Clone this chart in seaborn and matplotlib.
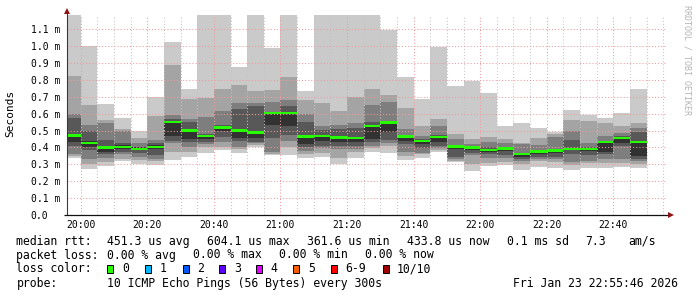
import numpy as np
import pandas as pd
import matplotlib
matplotlib.use("Agg")
import matplotlib.pyplot as plt
import matplotlib.dates as mdates
from matplotlib.patches import Rectangle
import seaborn as sns

sns.set_style("white")
plt.rcParams['font.family'] = ['DejaVu Sans Mono', 'DejaVu Sans']

# ---- data (milliseconds) ----
bar_start = pd.date_range("2026-01-23 19:55", periods=35, freq="5min")

ping1 = [0.337, 0.275, 0.292, 0.318, 0.302, 0.298, 0.326, 0.345, 0.367, 0.385, 0.365, 0.405,
         0.355, 0.355, 0.335, 0.345, 0.300, 0.335, 0.375, 0.369, 0.326, 0.335, 0.372, 0.316,
         0.263, 0.292, 0.296, 0.268, 0.286, 0.278, 0.268, 0.276, 0.277, 0.286, 0.280]
ping2 = [0.349, 0.300, 0.315, 0.330, 0.325, 0.322, 0.375, 0.375, 0.400, 0.404, 0.390, 0.415,
         0.360, 0.400, 0.360, 0.365, 0.340, 0.375, 0.395, 0.410, 0.350, 0.360, 0.385, 0.322,
         0.300, 0.310, 0.315, 0.300, 0.320, 0.315, 0.295, 0.305, 0.305, 0.310, 0.300]
ping3 = [0.361, 0.330, 0.335, 0.360, 0.345, 0.330, 0.428, 0.405, 0.420, 0.434, 0.405, 0.425,
         0.375, 0.440, 0.380, 0.395, 0.390, 0.390, 0.410, 0.425, 0.375, 0.370, 0.395, 0.330,
         0.355, 0.335, 0.335, 0.320, 0.330, 0.330, 0.315, 0.320, 0.330, 0.330, 0.318]
ping4 = [0.408, 0.385, 0.360, 0.375, 0.370, 0.355, 0.440, 0.430, 0.430, 0.464, 0.440, 0.435,
         0.454, 0.474, 0.400, 0.410, 0.410, 0.410, 0.435, 0.444, 0.420, 0.395, 0.410, 0.345,
         0.370, 0.360, 0.355, 0.330, 0.345, 0.345, 0.360, 0.355, 0.360, 0.410, 0.330]
ping5 = [0.434, 0.400, 0.375, 0.390, 0.385, 0.390, 0.468, 0.450, 0.450, 0.495, 0.454, 0.455,
         0.533, 0.527, 0.420, 0.440, 0.434, 0.434, 0.448, 0.493, 0.438, 0.420, 0.434, 0.390,
         0.385, 0.375, 0.380, 0.345, 0.360, 0.370, 0.382, 0.380, 0.375, 0.425, 0.350]
ping6 = [0.480, 0.440, 0.410, 0.412, 0.400, 0.415, 0.555, 0.510, 0.472, 0.525, 0.510, 0.500,
         0.610, 0.610, 0.470, 0.475, 0.465, 0.460, 0.535, 0.550, 0.470, 0.442, 0.468, 0.410,
         0.403, 0.390, 0.400, 0.365, 0.380, 0.386, 0.395, 0.395, 0.438, 0.460, 0.440]
ping7 = [0.574, 0.500, 0.445, 0.424, 0.405, 0.425, 0.570, 0.550, 0.480, 0.535, 0.628, 0.645,
         0.612, 0.645, 0.553, 0.505, 0.510, 0.513, 0.549, 0.553, 0.475, 0.450, 0.475, 0.414,
         0.410, 0.400, 0.405, 0.370, 0.385, 0.390, 0.444, 0.400, 0.440, 0.470, 0.493]
ping8 = [0.598, 0.535, 0.545, 0.500, 0.428, 0.444, 0.592, 0.568, 0.582, 0.616, 0.665, 0.665,
         0.671, 0.681, 0.598, 0.527, 0.533, 0.545, 0.651, 0.671, 0.509, 0.468, 0.527, 0.448,
         0.420, 0.434, 0.428, 0.420, 0.414, 0.464, 0.498, 0.424, 0.468, 0.483, 0.513]
ping9 = [0.823, 0.650, 0.560, 0.508, 0.455, 0.586, 0.888, 0.687, 0.695, 0.746, 0.770, 0.735,
         0.740, 0.815, 0.681, 0.665, 0.617, 0.700, 0.746, 0.710, 0.635, 0.527, 0.568, 0.480,
         0.448, 0.460, 0.448, 0.428, 0.458, 0.480, 0.562, 0.557, 0.547, 0.527, 0.543]
ping10 = [1.300, 1.000, 0.657, 0.576, 0.500, 0.700, 1.024, 0.746, 1.300, 1.300, 0.878, 1.300,
          0.990, 1.300, 0.734, 1.300, 1.300, 1.300, 1.300, 1.097, 0.815, 0.687, 0.997, 0.764,
          0.793, 0.724, 0.527, 0.547, 0.518, 0.493, 0.622, 0.592, 0.577, 0.602, 0.746]
median = [0.470, 0.428, 0.400, 0.404, 0.392, 0.403, 0.549, 0.500, 0.468, 0.519, 0.500, 0.489,
          0.602, 0.602, 0.464, 0.468, 0.458, 0.454, 0.527, 0.547, 0.464, 0.438, 0.462, 0.405,
          0.399, 0.385, 0.394, 0.361, 0.375, 0.381, 0.390, 0.389, 0.434, 0.454, 0.433]

y_ticks = [0.0, 0.1, 0.2, 0.3, 0.4, 0.5, 0.6, 0.7, 0.8, 0.9, 1.0, 1.1]
y_labels = ["0.0", "0.1 m", "0.2 m", "0.3 m", "0.4 m", "0.5 m", "0.6 m", "0.7 m",
            "0.8 m", "0.9 m", "1.0 m", "1.1 m"]

loss_labels = ["0", "1", "2", "3", "4", "5", "6-9", "10/10"]
loss_colors = ['#26ff00', '#00b8ff', '#0059ff', '#5e00ff', '#dd00ff', '#fe5c00', '#ff0000', '#a10000']

smoke_colors = ['#cacaca', '#a4a4a4', '#7e7e7e', '#585858', '#323232']

W, H = 697, 297
fig = plt.figure(figsize=(W / 100, H / 100), dpi=100)
fig.patch.set_facecolor('white')
ax_l, ax_r, ax_b, ax_t = 66.7, 665.8, 215.0, 15.0
ax = fig.add_axes([ax_l / W, 1 - ax_b / H, (ax_r - ax_l) / W, (ax_b - ax_t) / H])
ax.set_facecolor('white')

x = mdates.date2num(bar_start.to_pydatetime())
w = 5.0 / 1440.0
pings = [ping1, ping2, ping3, ping4, ping5, ping6, ping7, ping8, ping9, ping10]
for i in range(5):
    lo = np.array(pings[i])
    hi = np.array(pings[9 - i])
    ax.bar(x, hi - lo, bottom=lo, width=w, align='edge', color=smoke_colors[i],
           linewidth=0, antialiased=False, zorder=1)

med = np.array(median)
band = 0.014
ax.bar(x, band, bottom=med - band / 2, width=w, align='edge', color=loss_colors[0],
       linewidth=0, antialiased=False, zorder=3)

t0 = mdates.date2num(pd.Timestamp("2026-01-23 19:55:46").to_pydatetime())
t1 = mdates.date2num(pd.Timestamp("2026-01-23 22:55:46").to_pydatetime())
ax.set_xlim(t0, t1)
ax.set_ylim(0, 1.184)

ax.xaxis.set_major_locator(mdates.MinuteLocator(byminute=[0, 20, 40]))
ax.xaxis.set_minor_locator(mdates.MinuteLocator(byminute=range(0, 60, 5)))
ax.xaxis.set_major_formatter(mdates.DateFormatter('%H:%M'))
ax.set_yticks(y_ticks)
ax.set_yticklabels(y_labels)

ax.set_axisbelow(False)
ax.grid(True, which='major', axis='both', color='#ee9c9c', linestyle=(0, (1, 2)), linewidth=0.75)
ax.grid(True, which='minor', axis='x', color='#c4c4c4', linestyle=(0, (1, 2)), linewidth=0.75)

ax.tick_params(axis='x', which='major', length=2.2, width=0.7, color='#ee9c9c', pad=1.5,
               labelsize=7, labelcolor='black')
ax.tick_params(axis='x', which='minor', length=0)
ax.tick_params(axis='y', which='both', length=0, pad=(ax_l - 30.7) * 0.72, labelsize=7,
               labelcolor='black')
for lab in ax.get_yticklabels():
    lab.set_horizontalalignment('left')

for s in ax.spines.values():
    s.set_visible(False)

# axis lines with arrows
ax.plot([0, 0], [0, 1.025], transform=ax.transAxes, color='#3a3a3a', lw=0.8,
        clip_on=False, zorder=4, solid_capstyle='butt')
ax.plot([-0.004, 1.006], [0, 0], transform=ax.transAxes, color='#111111', lw=0.9,
        clip_on=False, zorder=4, solid_capstyle='butt')
ax.plot([0], [1.02], marker='^', markersize=4.2, color='#8c1414', transform=ax.transAxes,
        clip_on=False, zorder=5, markeredgewidth=0)
ax.plot([1.0087], [0], marker='>', markersize=4.2, color='#8c1414', transform=ax.transAxes,
        clip_on=False, zorder=5, markeredgewidth=0)

# y label and watermark
fig.text(10.7 / W, 1 - 113 / H, "Seconds", rotation=90, ha='center', va='center',
         fontsize=8, color='black')
fig.text(687.3 / W, 1 - 60 / H, "RRDTOOL / TOBI OETIKER", rotation=270, ha='center',
         va='center', fontsize=6, color='#b4b4b4')

# legend rows
fs = 8.3
def ftext(xp, yp, s, **kw):
    fig.text(xp / W, 1 - yp / H, s, ha='left', va='center', fontsize=fs, color='black', **kw)

r1, r2, r3, r4 = 241.3, 255.0, 268.7, 283.3
ftext(16.5, r1, "median rtt:")
ftext(107.3, r1, "451.3 us avg")
ftext(207.3, r1, "604.1 us max")
ftext(307.3, r1, "361.6 us min")
ftext(407.3, r1, "433.8 us now")
ftext(507.3, r1, "0.1 ms sd")
ftext(585.0, r1, "7.3")
ftext(628.0, r1, "am/s")

ftext(16.5, r2, "packet loss:")
ftext(107.3, r2, "0.00 % avg")
ftext(193.3, r2, "0.00 % max")
ftext(279.3, r2, "0.00 % min")
ftext(365.3, r2, "0.00 % now")

ftext(16.5, r3, "loss color:")
box_x = [107.3, 145.0, 182.7, 219.0, 256.0, 293.3, 330.7, 382.7]
lab_x = [122.7, 160.0, 197.3, 234.0, 270.7, 308.3, 345.7, 396.7]
for bx, lx, lab, col in zip(box_x, lab_x, loss_labels, loss_colors):
    fig.add_artist(Rectangle((bx / W, 1 - (r3 + 3.8) / H), 6.0 / W, 7.6 / H,
                             transform=fig.transFigure, facecolor=col,
                             edgecolor='black', linewidth=0.7))
    ftext(lx, r3, lab)

ftext(16.5, r4, "probe:")
ftext(107.3, r4, "10 ICMP Echo Pings (56 Bytes) every 300s")
ftext(513.3, r4, "Fri Jan 23 22:55:46 2026")

fig.savefig("out.png", dpi=100, facecolor='white')
